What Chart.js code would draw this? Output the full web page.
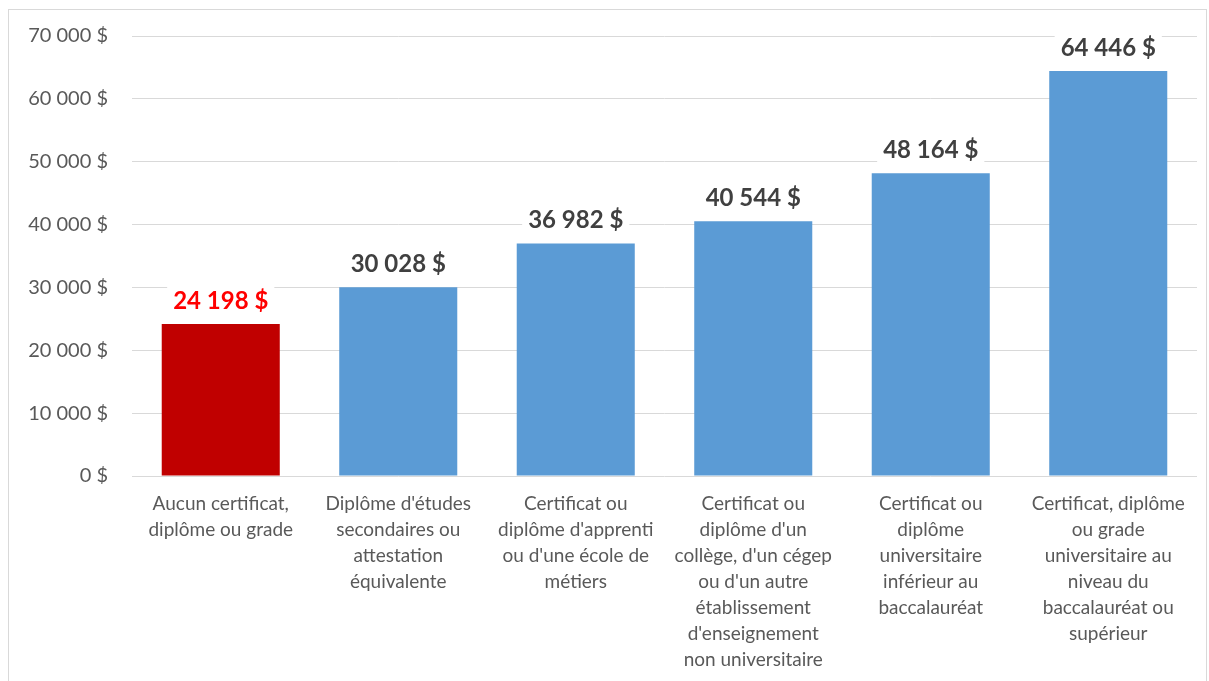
<!DOCTYPE html>
<html lang="fr">
<head>
    <meta charset="UTF-8">
    <script src="https://cdn.jsdelivr.net/npm/chart.js"></script>
    <title>Revenu selon le diplôme</title>
    <style>
        body { margin: 0; background: #fff; }
        #wrap { width: 1209px; height: 681px; }
    </style>
</head>
<body>
    <div id="wrap">
        <canvas id="grafico"></canvas>
    </div>

    <script>
        const categories = [
            ['Aucun certificat,', 'diplôme ou grade'],
            ["Diplôme d'études", 'secondaires ou', 'attestation', 'équivalente'],
            ['Certificat ou', "diplôme d'apprenti", "ou d'une école de", 'métiers'],
            ['Certificat ou', "diplôme d'un", "collège, d'un cégep", "ou d'un autre", 'établissement', "d'enseignement", 'non universitaire'],
            ['Certificat ou', 'diplôme', 'universitaire', 'inférieur au', 'baccalauréat'],
            ['Certificat, diplôme', 'ou grade', 'universitaire au', 'niveau du', 'baccalauréat ou', 'supérieur']
        ]
        const valeurs = [24198, 30028, 36982, 40544, 48164, 64446]
        const couleursBarres = ['#C00000', '#5B9BD5', '#5B9BD5', '#5B9BD5', '#5B9BD5', '#5B9BD5']
        const couleursEtiquettes = ['#FF0000', '#404040', '#404040', '#404040', '#404040', '#404040']
        const yMin = 0
        const yMax = 70000
        const yPas = 10000

        const formatDollar = v => String(v).replace(/\B(?=(\d{3})+(?!\d))/g, ' ') + ' $'

        // cadre gris autour du graphique
        const cadre = {
            id: 'cadre',
            beforeDraw(chart) {
                const c = chart.ctx
                c.save()
                c.fillStyle = '#fff'
                c.fillRect(0, 0, chart.width, chart.height)
                c.strokeStyle = '#d9d9d9'
                c.lineWidth = 1
                c.strokeRect(8.5, 9.5, 1198, 700)
                c.restore()
            }
        }

        // etiquettes de valeurs au-dessus des barres, fond blanc
        const etiquettes = {
            id: 'etiquettes',
            afterDatasetsDraw(chart) {
                const c = chart.ctx
                const meta = chart.getDatasetMeta(0)
                c.save()
                c.font = 'bold 24px Lato'
                c.textAlign = 'center'
                c.textBaseline = 'middle'
                meta.data.forEach((bar, i) => {
                    const txt = formatDollar(valeurs[i])
                    const w = c.measureText(txt).width
                    const cy = bar.y - 24
                    c.fillStyle = '#fff'
                    c.fillRect(bar.x - w / 2 - 6, cy - 17, w + 12, 34)
                    c.fillStyle = couleursEtiquettes[i]
                    c.fillText(txt, bar.x, cy + 1)
                })
                c.restore()
            }
        }

        const ctx = document.getElementById('grafico')

        new Chart(ctx, {
            type: 'bar',
            data: {
                labels: categories,
                datasets: [{
                    data: valeurs,
                    backgroundColor: couleursBarres,
                    borderWidth: 0,
                    categoryPercentage: 1,
                    barPercentage: 0.665
                }]
            },
            options: {
                responsive: true,
                maintainAspectRatio: false,
                animation: false,
                layout: { padding: { top: 30, right: 12, left: 0, bottom: 0 } },
                plugins: {
                    legend: { display: false },
                    tooltip: { enabled: false }
                },
                scales: {
                    x: {
                        grid: { display: false },
                        border: { display: false },
                        ticks: {
                            color: '#595959',
                            font: { family: 'Lato', size: 19, lineHeight: 1.37 },
                            padding: 7,
                            maxRotation: 0,
                            autoSkip: false
                        },
                        afterFit(s) { s.height = 681 - 476 }
                    },
                    y: {
                        min: yMin,
                        max: yMax,
                        grid: { color: '#d9d9d9', drawTicks: false },
                        border: { display: false },
                        ticks: {
                            stepSize: yPas,
                            color: '#595959',
                            font: { family: 'Lato', size: 20 },
                            padding: 24,
                            callback: v => formatDollar(v)
                        },
                        afterFit(s) { s.width = 132 }
                    }
                }
            },
            plugins: [cadre, etiquettes]
        })
    </script>
</body>
</html>
